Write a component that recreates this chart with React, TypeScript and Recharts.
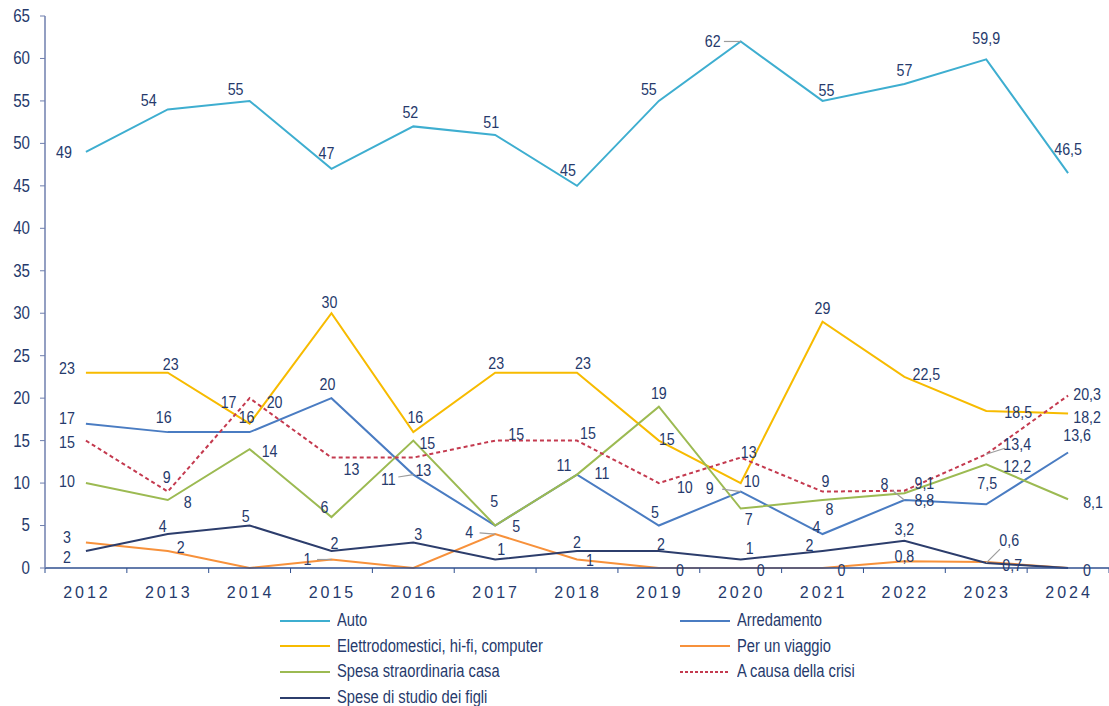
import { LineChart, Line, XAxis, YAxis, Legend } from 'recharts';

const years = ['2012', '2013', '2014', '2015', '2016', '2017', '2018', '2019', '2020', '2021', '2022', '2023', '2024'];

const auto = [49, 54, 55, 47, 52, 51, 45, 55, 62, 55, 57, 59.9, 46.5];
const arredamento = [17, 16, 16, 20, 11, 5, 11, 5, 9, 4, 8, 7.5, 13.6];
const elettrodomestici = [23, 23, 17, 30, 16, 23, 23, 15, 10, 29, 22.5, 18.5, 18.2];
const viaggio = [3, 2, 0, 1, 0, 4, 1, 0, 0, 0, 0.8, 0.7, 0];
const straordinaria = [10, 8, 14, 6, 15, 5, 11, 19, 7, 8, 8.8, 12.2, 8.1];
const crisi = [15, 9, 20, 13, 13, 15, 15, 10, 13, 9, 9.1, 13.4, 20.3];
const studio = [2, 4, 5, 2, 3, 1, 2, 2, 1, 2, 3.2, 0.6, 0];

const yTicks = [0, 5, 10, 15, 20, 25, 30, 35, 40, 45, 50, 55, 60, 65];

const series = [
  { key: 'auto', name: 'Auto', color: '#3eaed0', dash: undefined },
  { key: 'arredamento', name: 'Arredamento', color: '#4a7cc2', dash: undefined },
  { key: 'elettrodomestici', name: 'Elettrodomestici, hi-fi, computer', color: '#f7bb00', dash: undefined },
  { key: 'viaggio', name: 'Per un viaggio', color: '#f7913b', dash: undefined },
  { key: 'straordinaria', name: 'Spesa straordinaria casa', color: '#9cba52', dash: undefined },
  { key: 'crisi', name: 'A causa della crisi', color: '#c43a4f', dash: '4 3' },
  { key: 'studio', name: 'Spese di studio dei figli', color: '#2c3d6c', dash: undefined },
];

// label placement around each point: [dx, dy, leader line?]
type Nudge = [number, number, number?] | null;
const labelNudge: Record<string, Nudge[]> = {
  auto: [[-22, 0], [-19, -9], [-14, -12], [-5, -16], [-3, -14], [-4, -13], [-9, -16], [-10, -12], [-28, 0, 1], [4, -11], [0, -14], [0, -21], [0, -24]],
  arredamento: [[-19, -6], [-4, -15], [-3, -15], [-4, -14], [-25, 4, 1], [-1, -24], [25, -2], [-4, -13], [-31, -4, 1], [-6, -7], [-20, -16, 1], [1, -21], [9, -17]],
  elettrodomestici: [[-19, -5], [3, -9], [-21, -22], [-2, -11], [2, -15], [1, -10], [6, -10], [8, -2], [11, -2], [0, -14], [22, -3], [32, 1], [19, 4]],
  viaggio: [[-19, -5], [13, -4], null, [-24, 0, 1], null, [-26, -2, 1], [13, 1], [21, 2], [20, 2], [19, 2], [0, -5], [26, 3], [19, 2]],
  straordinaria: [[-19, -2], [20, 2], [20, 2], [-7, -10], [14, 2], [21, 1], [-13, -10], [0, -14], [8, 10], [7, 9], [20, 7], [31, 2], [25, 3]],
  crisi: [[-19, 1], [-1, -15], [25, 4], [20, 11], [10, 12], [21, -7], [11, -8], [26, 4], [8, -6], [3, -11], [20, -8], [31, -10, 1], [19, -2]],
  studio: [[-19, 6], [-5, -8], [-4, -9], [3, -8], [5, -8], [6, -10], [0, -9], [2, -7], [9, -11], [-13, -6], [0, -12], [23, -23, 1], null],
};

const data = years.map((year, i) => ({
  idx: i,
  year,
  auto: auto[i],
  arredamento: arredamento[i],
  elettrodomestici: elettrodomestici[i],
  viaggio: viaggio[i],
  straordinaria: straordinaria[i],
  crisi: crisi[i],
  studio: studio[i],
}));

const boundaries = [...years.map((_, i) => i - 0.5), years.length - 0.5];

const chartW = 1109;
const chartH = 706;
const yAxisW = 45;
const step = (chartW - yAxisW) / years.length;

const textColor = '#263a6c';
const font = '"Liberation Sans", Arial, sans-serif';
const squeeze = 0.84;

const fmt = (v: number) => String(v).replace('.', ',');

// Arial Narrow look: regular face squeezed horizontally
function NarrowText({ x, y, anchor = 'middle', size = 17, children }: any) {
  return (
    <text transform={`translate(${x},${y}) scale(${squeeze},1)`} textAnchor={anchor}
      dominantBaseline="central" fill={textColor} fontSize={size} fontFamily={font}>
      {children}
    </text>
  );
}

function YearTick({ x, y, payload }: any) {
  const i = Math.round(payload.value + 0.5);
  if (i >= years.length) return null;
  return (
    <text x={x + step / 2 + 1} y={y + 17} textAnchor="middle" dominantBaseline="central"
      fill={textColor} fontSize={16} fontFamily={font} letterSpacing={3}>
      {years[i]}
    </text>
  );
}

function ValueTick({ x, y, payload }: any) {
  return <NarrowText x={x} y={y} anchor="end" size={18}>{payload.value}</NarrowText>;
}

const makeLabel = (key: string) => (props: any) => {
  const { x, y, index, value } = props;
  const n = labelNudge[key][index];
  if (!n || value == null) return null;
  const [dx, dy, leader] = n;
  return (
    <g key={`${key}-${index}`}>
      {leader ? <line x1={x + dx * 0.6} y1={y + dy * 0.6} x2={x} y2={y} stroke="#9c9c9c" strokeWidth={1.2} /> : null}
      <NarrowText x={x + dx} y={y + dy}>{fmt(value)}</NarrowText>
    </g>
  );
};

const legendRows = [
  ['auto', 'arredamento'],
  ['elettrodomestici', 'viaggio'],
  ['straordinaria', 'crisi'],
  ['studio', null],
];

function LegendItem({ k }: { k: string | null }) {
  const s = series.find(e => e.key === k);
  if (!s) return <div style={{ width: 400 }} />;
  return (
    <div style={{ width: 400, display: 'flex', alignItems: 'center', height: 25.6 }}>
      <svg width={50} height={4} style={{ marginRight: 7 }}>
        <line x1={0} y1={2} x2={50} y2={2} stroke={s.color} strokeWidth={2} strokeDasharray={s.dash ? '3 2' : undefined} />
      </svg>
      <span style={{
        fontFamily: font, fontSize: 17.5, color: textColor, display: 'inline-block',
        transform: `scaleX(${squeeze})`, transformOrigin: 'left center', whiteSpace: 'nowrap',
      }}>
        {s.name}
      </span>
    </div>
  );
}

function LegendContent() {
  return (
    <div>
      {legendRows.map((row, r) => (
        <div key={r} style={{ display: 'flex' }}>
          <LegendItem k={row[0]} />
          <LegendItem k={row[1]} />
        </div>
      ))}
    </div>
  );
}

export default function App() {
  return (
    <div style={{ position: 'absolute', left: 0, top: 0, width: chartW, height: chartH, background: '#fff' }}>
      <LineChart width={chartW} height={chartH} data={data} margin={{ top: 16, right: 0, left: 0, bottom: 98 }}>
        <XAxis
          dataKey="idx"
          type="number"
          domain={[-0.5, years.length - 0.5]}
          ticks={boundaries}
          interval={0}
          height={40}
          tick={<YearTick />}
          tickSize={5}
          tickMargin={2}
          axisLine={{ stroke: '#2f4f8f', strokeWidth: 1.5 }}
          tickLine={{ stroke: '#2f4f8f' }}
        />
        <YAxis
          domain={[0, 65]}
          ticks={yTicks}
          interval={0}
          width={yAxisW}
          tickSize={5}
          tickMargin={10}
          axisLine={{ stroke: '#6f7fae', strokeWidth: 1.5 }}
          tickLine={{ stroke: '#6f7fae' }}
          tick={<ValueTick />}
        />
        <Legend
          layout="vertical"
          align="center"
          verticalAlign="middle"
          wrapperStyle={{ top: 608, left: 280, width: 820 }}
          content={<LegendContent />}
        />
        {series.map(s => (
          <Line
            key={s.key}
            dataKey={s.key}
            name={s.name}
            type="linear"
            stroke={s.color}
            strokeWidth={2}
            strokeDasharray={s.dash}
            dot={false}
            activeDot={false}
            isAnimationActive={false}
            label={makeLabel(s.key)}
          />
        ))}
      </LineChart>
    </div>
  );
}
